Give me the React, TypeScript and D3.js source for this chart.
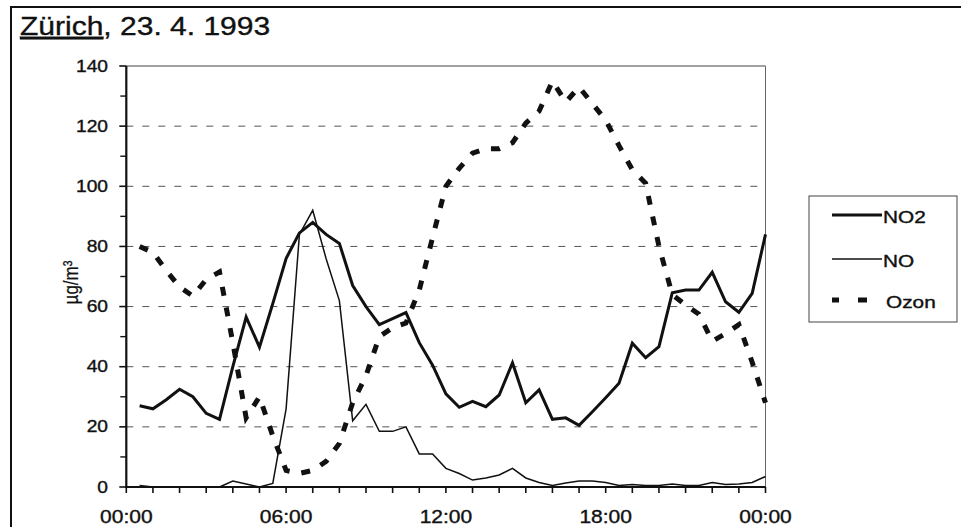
import React from "react";
import * as d3 from "d3";

// half-hourly readings, 00:30 ... 24:00
const hours: number[] = Array.from({ length: 48 }, (_, i) => (i + 1) * 0.5);
const no2: number[] = [
  27, 26, 29, 32.5, 30, 24.5, 22.5, 40, 56.5, 46.5, 61, 76, 84.5, 88, 84, 81,
  67, 60, 54, 56, 58, 48, 40.5, 31, 26.5, 28.5, 26.7, 30.6, 41.3, 28, 32.3, 22.5,
  23, 20.5, 25, 29.7, 34.5, 47.8, 43, 46.7, 64.6, 65.5, 65.5, 71.4, 61.6, 58.1, 64.4, 84,
];
const no: number[] = [
  0.5, 0, 0, 0, 0, 0, 0, 2, 1, 0, 1.2, 26, 84, 92, 76, 62,
  22, 27.5, 18.5, 18.5, 20, 11, 11, 6.2, 4.5, 2.3, 3, 4, 6.2, 3, 1.5, 0.5,
  1.3, 2, 2, 1.5, 0.5, 0.8, 0.5, 0.5, 1, 0.5, 0.5, 1.5, 0.8, 1, 1.5, 3.5,
];
const ozon: number[] = [
  80, 78, 72, 66.5, 63.5, 69, 71.5, 48, 23, 30, 17, 5.5, 4.5, 5.5, 8.5, 14.5,
  28, 37, 50, 53, 54.5, 65.5, 83, 100, 106, 111, 112.5, 112.5, 114.5, 121, 125, 135,
  128, 133, 127.5, 122, 113.5, 105.5, 101, 80, 64, 60.5, 57.5, 48.5, 51, 54, 41.5, 28,
];
const yTicks: number[] = [0, 20, 40, 60, 80, 100, 120, 140];
const yMinor: number[] = [10, 30, 50, 70, 90, 110, 130];
const xLabelHours: number[] = [0, 6, 12, 18, 24];
const xLabels: string[] = ["00:00", "06:00", "12:00", "18:00", "00:00"];
const legendNames: string[] = ["NO2", "NO", "Ozon"];

const FONT = "'Liberation Sans', Arial, Helvetica, sans-serif";
const SX = 1.2;
const TXT = { fill: "#111", stroke: "#111", strokeWidth: 0.35 };

export default function App() {
  const x = d3.scaleLinear().domain([0, 24]).range([126.3, 765.5]);
  const y = d3.scaleLinear().domain([0, 140]).range([487, 66]);
  const line = (vals: number[]) =>
    d3
      .line<number>()
      .x((_, i) => x(hours[i]))
      .y((v) => y(v))(vals) as string;

  const hourTicks = d3.range(0, 25);
  const legendY = [215, 259, 300];
  const styles = [
    { w: 3, dash: undefined as string | undefined },
    { w: 1.5, dash: undefined as string | undefined },
    { w: 5, dash: "7,19,9,40" },
  ];

  return (
    <svg
      width={961}
      height={527}
      style={{ position: "absolute", left: 0, top: 0, background: "#fff" }}
      fontFamily={FONT}
    >
      <rect x={0} y={0} width={961} height={527} fill="#fff" />
      {/* outer frame (cropped) */}
      <rect x={11} y={7} width={1000} height={600} fill="none" stroke="#111" strokeWidth={2} />

      {/* title */}
      <g transform={`translate(20,35) scale(${SX},1)`}>
        <text fontSize={25} {...TXT}>
          <tspan textDecoration="underline">Zürich</tspan>, 23. 4. 1993
        </text>
      </g>

      {/* gridlines */}
      {yTicks
        .filter((t) => t > 0 && t < 140)
        .map((t) => (
          <line
            key={"g" + t}
            x1={x(0)}
            x2={x(24)}
            y1={y(t)}
            y2={y(t)}
            stroke="#555"
            strokeWidth={1}
            strokeDasharray="7,9"
          />
        ))}
      {/* plot frame top/right */}
      <line x1={x(0)} x2={x(24)} y1={y(140)} y2={y(140)} stroke="#444" strokeWidth={1.2} />
      <line x1={x(24)} x2={x(24)} y1={y(140)} y2={y(0)} stroke="#666" strokeWidth={1} />

      {/* y axis */}
      <line x1={x(0)} x2={x(0)} y1={y(140)} y2={y(0) + 1} stroke="#111" strokeWidth={2.2} />
      {yTicks.map((t) => (
        <g key={"yt" + t}>
          <line x1={x(0) - 7} x2={x(0)} y1={y(t)} y2={y(t)} stroke="#111" strokeWidth={1.6} />
          <g transform={`translate(108,${y(t) + 5.5}) scale(${SX},1)`}>
            <text fontSize={16} textAnchor="end" {...TXT}>
              {t}
            </text>
          </g>
        </g>
      ))}
      {yMinor.map((t) => (
        <line key={"ym" + t} x1={x(0) - 6} x2={x(0)} y1={y(t)} y2={y(t)} stroke="#111" strokeWidth={1.4} />
      ))}
      <g transform={`translate(78,${y(68)}) scale(${SX},1) rotate(-90)`}>
        <text fontSize={17} textAnchor="middle" {...TXT} strokeWidth={0.2}>
          µg/m³
        </text>
      </g>

      {/* x axis */}
      <line x1={x(0) - 1} x2={x(24)} y1={y(0)} y2={y(0)} stroke="#111" strokeWidth={2.2} />
      {hourTicks.map((h) => (
        <line key={"xt" + h} x1={x(h)} x2={x(h)} y1={y(0)} y2={y(0) + 6} stroke="#111" strokeWidth={1.6} />
      ))}
      {xLabelHours.map((h, i) => (
        <g key={"xl" + i} transform={`translate(${x(h)},523) scale(${SX},1)`}>
          <text fontSize={17.5} textAnchor="middle" {...TXT}>
            {xLabels[i]}
          </text>
        </g>
      ))}

      {/* series */}
      <path d={line(no)} fill="none" stroke="#111" strokeWidth={1.5} />
      <path d={line(no2)} fill="none" stroke="#111" strokeWidth={3} />
      <path d={line(ozon)} fill="none" stroke="#111" strokeWidth={5} strokeDasharray="9,12" />

      {/* legend */}
      <rect x={809} y={196} width={148} height={126} fill="#fff" stroke="#444" strokeWidth={1} />
      {legendNames.map((n, i) => (
        <g key={"lg" + n}>
          <line
            x1={832}
            x2={882}
            y1={legendY[i]}
            y2={legendY[i]}
            stroke="#111"
            strokeWidth={styles[i].w}
            strokeDasharray={styles[i].dash}
          />
          <g transform={`translate(${i === 2 ? 886 : 883},${legendY[i] + 7.5}) scale(1.3,1)`}>
            <text fontSize={16} {...TXT}>
              {n}
            </text>
          </g>
        </g>
      ))}
    </svg>
  );
}
